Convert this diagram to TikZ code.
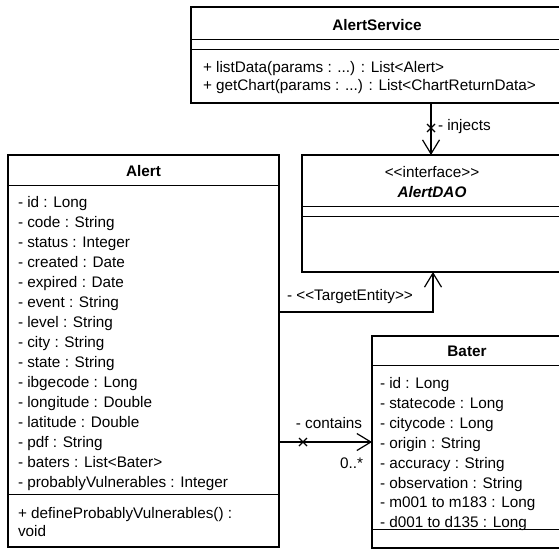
\documentclass[tikz,border=0pt]{standalone}
\usepackage{fontspec}
\setmainfont{Liberation Sans}[Ligatures=TeXOff]
\usetikzlibrary{arrows.meta}
\begin{document}
\begin{tikzpicture}[x=1pt,y=-1pt,
  every node/.style={inner sep=0pt,outer sep=0pt,font=\fontsize{15.3}{20}\selectfont},
  umlbox/.style={draw=black,line width=2.2pt,fill=white,anchor=north west},
  divider/.style={draw=black,line width=1pt},
  member/.style={anchor=base west},
  classname/.style={font=\fontsize{15.3}{20}\selectfont\bfseries},
  assoc/.style={draw=black,line width=1.2pt},
  navigable/.style={-{Straight Barb[length=14pt,width=17pt]}},
  nonnav/.style={draw=black,line width=1.1pt},
]
\useasboundingbox (0,0) rectangle (559,549);
\clip (0,0) rectangle (559,549);

% ---- class boxes ----
\node[umlbox,minimum width=372pt,minimum height=96pt] (service) at (191,7) {};
\node[umlbox,minimum width=260pt,minimum height=117pt] (dao) at (302,155) {};
\node[umlbox,minimum width=271pt,minimum height=392pt] (alert) at (8,155) {};
\node[umlbox,minimum width=190pt,minimum height=212pt] (bater) at (372,336) {};

% ---- compartment dividers ----
\draw[divider] (191,39) -- (563,39);
\draw[divider] (191,49) -- (563,49);
\draw[divider] (302,206) -- (562,206);
\draw[divider] (302,216) -- (562,216);
\draw[divider] (8,185) -- (279,185);
\draw[divider] (8,494) -- (279,494);
\draw[divider] (372,365) -- (562,365);
\draw[divider] (372,529) -- (562,529);

% ---- AlertService ----
\node[classname] (serviceName) at (377,25) {AlertService};
\node[member] (m1) at (203,72.5) {+ listData(params : ...) : List<Alert>};
\node[member] (m2) at (203,90.5) {+ getChart(params : ...) : List<ChartReturnData>};

% ---- AlertDAO ----
\node (stereo) at (432,172) {<<interface>>};
\node[font=\fontsize{15.3}{20}\selectfont\bfseries\itshape] (daoName) at (432,192) {AlertDAO};

% ---- Alert ----
\node[classname] (alertName) at (143.5,171) {Alert};
\foreach \t [count=\i from 0] in {%
  - id : Long, - code : String, - status : Integer, - created : Date,
  - expired : Date, - event : String, - level : String, - city : String,
  - state : String, - ibgecode : Long, - longitude : Double,
  - latitude : Double, - pdf : String, - baters : List<Bater>,
  - probablyVulnerables : Integer}
  \node[member] (a\i) at (18,207.5+20*\i) {\t};
\node[member] (op1) at (18,518.5) {+ defineProbablyVulnerables() :};
\node[member] (op2) at (18,536.5) {void};

% ---- Bater ----
\node[classname] (baterName) at (467,351) {Bater};
\foreach \t [count=\i from 0] in {%
  - id : Long, - statecode : Long, - citycode : Long, - origin : String,
  - accuracy : String, - observation : String, - m001 to m183 : Long,
  - d001 to d135 : Long}
  \node[member] (b\i) at (380,388.5+19.9*\i) {\t};

% ---- connector end points ----
\coordinate (injTop) at (431,103);
\coordinate (injBot) at (431,155);
\coordinate (injX) at (431,128);
\coordinate (teStart) at (279,312);
\coordinate (teBend) at (433,312);
\coordinate (teEnd) at (433,272);
\coordinate (cStart) at (279,442);
\coordinate (cEnd) at (372,442);
\coordinate (cX) at (303,442);

% AlertService -> AlertDAO
\draw[assoc,navigable] (injTop) -- (injBot);
\draw[nonnav] ([shift={(-4,-4)}]injX) -- ([shift={(4,4)}]injX)
              ([shift={(-4,4)}]injX) -- ([shift={(4,-4)}]injX);
\node[member] (injLabel) at (438,130) {- injects};

% Alert -> AlertDAO
\draw[assoc,navigable] (teStart) -- (teBend) -- (teEnd);
\node[member] (teLabel) at (287,300) {- <<TargetEntity>>};

% Alert -> Bater
\draw[assoc,navigable] (cStart) -- (cEnd);
\draw[nonnav] ([shift={(-4,-4)}]cX) -- ([shift={(4,4)}]cX)
              ([shift={(-4,4)}]cX) -- ([shift={(4,-4)}]cX);
\node (cLabel) at (329,423) {- contains};
\node[anchor=east] (cMult) at (363,463) {0..*};
\end{tikzpicture}
\end{document}
